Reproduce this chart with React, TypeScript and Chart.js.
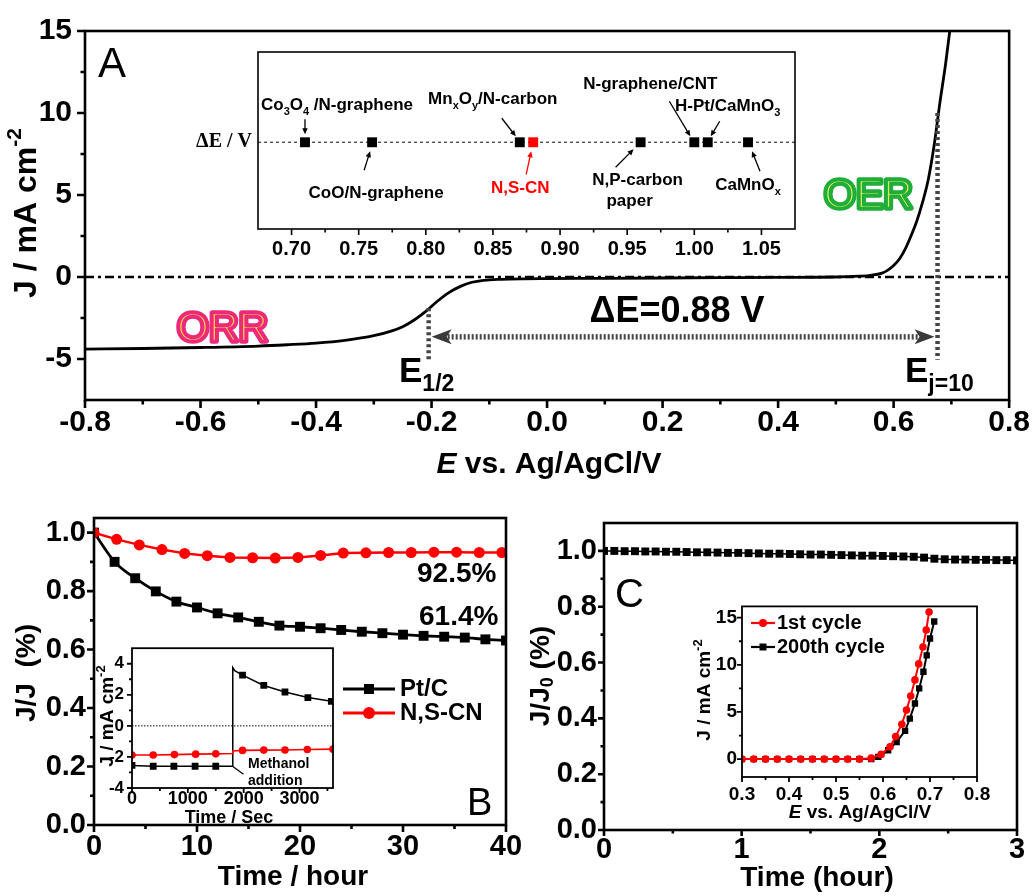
import React, { useEffect, useRef } from "react";
import { Chart, registerables } from "chart.js";

Chart.register(...registerables);

const SANS = "'Liberation Sans', Arial, Helvetica, sans-serif";
const SERIF = "'Liberation Serif', 'Times New Roman', serif";

// ---------------- Panel A : LSV (ORR + OER) ----------------
const lsvPotential = [-0.8, -0.7, -0.6, -0.5, -0.45, -0.4, -0.35, -0.3, -0.27, -0.25, -0.23, -0.21, -0.19, -0.17, -0.15, -0.13, -0.11, -0.08, -0.04, 0.0, 0.1, 0.2, 0.3, 0.4, 0.5, 0.54, 0.56, 0.58, 0.59, 0.6, 0.61, 0.62, 0.63, 0.64, 0.65, 0.66, 0.67, 0.68, 0.69, 0.7];
const lsvCurrent = [-4.4, -4.36, -4.3, -4.21, -4.13, -4.03, -3.86, -3.58, -3.3, -3.03, -2.62, -2.1, -1.48, -0.95, -0.57, -0.32, -0.2, -0.14, -0.11, -0.1, -0.08, -0.06, -0.04, -0.02, 0.0, 0.05, 0.1, 0.24, 0.42, 0.7, 1.1, 1.7, 2.5, 3.4, 4.55, 5.95, 8.0, 10.6, 13.0, 15.8];
const zeroLinePotential = [-0.8, 0.8];
const zeroLineCurrent = [0, 0];
const eHalf = -0.205;
const eJ10 = 0.676;
const jAtEHalf = -1.9;
const jTarget = 10;
const guideFloor = -5.05;
const arrowLevel = -3.65;
const panelAXTicks = [-0.8, -0.6, -0.4, -0.2, 0, 0.2, 0.4, 0.6, 0.8];
const panelAXMinor = [-0.7, -0.5, -0.3, -0.1, 0.1, 0.3, 0.5, 0.7];
const panelAYTicks = [-5, 0, 5, 10, 15];
const panelAYMinor = [-2.5, 2.5, 7.5, 12.5];

// ---------------- Inset A : ΔE comparison ----------------
const catalystNames = ["Co3O4/N-graphene", "CoO/N-graphene", "MnxOy/N-carbon", "N,S-CN", "N,P-carbon paper", "N-graphene/CNT", "H-Pt/CaMnO3", "CaMnOx"];
const catalystDeltaE = [0.71, 0.76, 0.87, 0.88, 0.96, 1.0, 1.01, 1.04];
const highlightCatalyst = "N,S-CN";
const deltaERow = 0.49;
const insetAXTicks = [0.7, 0.75, 0.8, 0.85, 0.9, 0.95, 1.0, 1.05];
const insetAXMinor = [0.725, 0.775, 0.825, 0.875, 0.925, 0.975, 1.025];

// ---------------- Panel B : stability / retention ----------------
const ptcHours = [0, 2, 4, 6, 8, 10, 12, 14, 16, 18, 20, 22, 24, 26, 28, 30, 32, 34, 36, 38, 40];
const ptcRatio = [1.0, 0.9, 0.844, 0.799, 0.764, 0.744, 0.724, 0.71, 0.695, 0.682, 0.678, 0.673, 0.667, 0.661, 0.656, 0.651, 0.647, 0.644, 0.641, 0.635, 0.631];
const nscnHours = [0, 2.2, 4.4, 6.6, 8.8, 11, 13.2, 15.4, 17.6, 19.8, 22, 24.2, 26.4, 28.6, 30.8, 33, 35.2, 37.4, 39.6];
const nscnRatio = [1.0, 0.977, 0.958, 0.942, 0.929, 0.921, 0.915, 0.914, 0.913, 0.915, 0.922, 0.93, 0.931, 0.932, 0.932, 0.933, 0.933, 0.932, 0.932];
const panelBXTicks = [0, 10, 20, 30, 40];
const panelBXMinor = [5, 15, 25, 35];
const panelBYTicks = [0, 0.2, 0.4, 0.6, 0.8, 1.0];
const panelBYMinor = [0.1, 0.3, 0.5, 0.7, 0.9];

// ---------------- Inset B : methanol tolerance ----------------
const ptcInsetSec = [0, 380, 750, 1130, 1500, 1800, 1805, 1840, 1980, 2360, 2740, 3150, 3570];
const ptcInsetJ = [-2.55, -2.6, -2.6, -2.6, -2.6, -2.6, 3.75, 3.55, 3.27, 2.6, 2.18, 1.82, 1.58];
const ptcInsetSample = [true, true, true, true, true, false, false, false, true, true, true, true, true];
const nscnInsetSec = [0, 380, 760, 1140, 1500, 1800, 1805, 1980, 2360, 2740, 3140, 3600];
const nscnInsetJ = [-1.88, -1.88, -1.85, -1.82, -1.8, -1.78, -1.62, -1.58, -1.56, -1.55, -1.52, -1.5];
const nscnInsetSample = [true, true, true, true, true, false, false, true, true, true, true, true];
const methanolTime = 1800;
const methanolJ = -2.6;
const insetBXTicks = [0, 1000, 2000, 3000];
const insetBXMinor = [500, 1500, 2500, 3500];
const insetBYTicks = [-4, -2, 0, 2, 4];
const insetBYMinor = [-3, -1, 1, 3];

// ---------------- Panel C : OER durability ----------------
const cHours = [0, 0.075, 0.15, 0.225, 0.3, 0.375, 0.45, 0.525, 0.6, 0.675, 0.75, 0.825, 0.9, 0.975, 1.05, 1.125, 1.2, 1.275, 1.35, 1.425, 1.5, 1.575, 1.65, 1.725, 1.8, 1.875, 1.95, 2.025, 2.1, 2.175, 2.25, 2.325, 2.4, 2.475, 2.55, 2.625, 2.7, 2.775, 2.85, 2.925, 3.0];
const cRetention = [1.0, 1.0, 0.999, 0.999, 0.998, 0.998, 0.997, 0.997, 0.996, 0.995, 0.995, 0.994, 0.993, 0.993, 0.992, 0.991, 0.99, 0.99, 0.989, 0.988, 0.987, 0.987, 0.986, 0.985, 0.984, 0.983, 0.983, 0.982, 0.981, 0.98, 0.979, 0.976, 0.972, 0.97, 0.969, 0.969, 0.968, 0.968, 0.967, 0.967, 0.966];
const panelCXTicks = [0, 1, 2, 3];
const panelCXMinor = [0.5, 1.5, 2.5];
const panelCYTicks = [0, 0.2, 0.4, 0.6, 0.8, 1.0];
const panelCYMinor = [0.1, 0.3, 0.5, 0.7, 0.9];

// ---------------- Inset C : polarization before / after cycling ----------------
const firstCycleE = [0.3, 0.325, 0.35, 0.375, 0.4, 0.425, 0.45, 0.475, 0.5, 0.525, 0.55, 0.575, 0.596, 0.615, 0.627, 0.64, 0.65, 0.659, 0.668, 0.676, 0.685, 0.692, 0.698];
const firstCycleJ = [0, 0, 0, 0, 0, 0, 0, 0, 0, 0, 0, 0.1, 0.5, 1.3, 2.4, 3.7, 5.2, 6.7, 8.4, 10.1, 11.9, 13.7, 15.6];
const cycle200E = [0.3, 0.325, 0.35, 0.375, 0.4, 0.425, 0.45, 0.475, 0.5, 0.525, 0.55, 0.575, 0.59, 0.611, 0.629, 0.647, 0.657, 0.668, 0.677, 0.686, 0.693, 0.7, 0.709];
const cycle200J = [0, 0, 0, 0, 0, 0, 0, 0, 0, 0, 0, 0, 0.24, 0.94, 1.8, 3.0, 4.3, 5.9, 7.5, 9.27, 11.0, 12.8, 14.6];
const insetCXTicks = [0.3, 0.4, 0.5, 0.6, 0.7, 0.8];
const insetCXMinor = [0.35, 0.45, 0.55, 0.65, 0.75];
const insetCYTicks = [0, 5, 10, 15];
const insetCYMinor = [2.5, 7.5, 12.5];

// ---------------- helpers ----------------
type Seg = { t: string; sub?: boolean; sup?: boolean; italic?: boolean };
type Box = { left: number; top: number; width: number; height: number };

const zip = (xs: number[], ys: number[]) => xs.map((x, i) => ({ x, y: ys[i] }));

function segFont(sg: Seg, size: number, weight: string, family: string) {
  const s = sg.sub || sg.sup ? Math.round(size * 0.66) : size;
  return `${sg.italic ? "italic " : ""}${weight} ${s}px ${family}`;
}

function drawRich(ctx: any, segs: Seg[], x: number, y: number, o: any) {
  const size = o.size;
  const weight = o.weight || "bold";
  const family = o.family || SANS;
  ctx.save();
  ctx.fillStyle = o.color || "#000";
  ctx.textBaseline = o.baseline || "alphabetic";
  ctx.textAlign = "left";
  let w = 0;
  for (const sg of segs) {
    ctx.font = segFont(sg, size, weight, family);
    w += ctx.measureText(sg.t).width;
  }
  const align = o.align || "left";
  let cx = align === "center" ? x - w / 2 : align === "right" ? x - w : x;
  for (const sg of segs) {
    ctx.font = segFont(sg, size, weight, family);
    const dy = sg.sub ? size * 0.26 : sg.sup ? -size * 0.36 : 0;
    ctx.fillText(sg.t, cx, y + dy);
    cx += ctx.measureText(sg.t).width;
  }
  ctx.restore();
}

function drawRotated(ctx: any, segs: Seg[], cx: number, cy: number, o: any) {
  ctx.save();
  ctx.translate(cx, cy);
  ctx.rotate(-Math.PI / 2);
  drawRich(ctx, segs, 0, 0, { ...o, align: "center", baseline: "middle" });
  ctx.restore();
}

// "inline" style lettering: coloured thick letters with a thin light line running inside the strokes
function inlineText(ctx: any, text: string, x: number, y: number, size: number, outer: string, inner: string) {
  ctx.save();
  ctx.font = `normal ${size}px ${SANS}`;
  ctx.textBaseline = "alphabetic";
  ctx.textAlign = "left";
  ctx.lineJoin = "round";
  ctx.strokeStyle = outer;
  ctx.lineWidth = 5.5;
  ctx.strokeText(text, x, y);
  ctx.fillStyle = inner;
  ctx.fillText(text, x, y);
  ctx.lineWidth = 2.6;
  ctx.strokeText(text, x, y);
  ctx.restore();
}

function arrow(ctx: any, x1: number, y1: number, x2: number, y2: number, color: string, head = 6, lw = 1.3) {
  const ang = Math.atan2(y2 - y1, x2 - x1);
  const c = Math.cos(ang), s = Math.sin(ang);
  ctx.save();
  ctx.strokeStyle = color;
  ctx.fillStyle = color;
  ctx.lineWidth = lw;
  ctx.setLineDash([]);
  ctx.beginPath();
  ctx.moveTo(x1, y1);
  ctx.lineTo(x2 - c * head * 0.8, y2 - s * head * 0.8);
  ctx.stroke();
  ctx.beginPath();
  ctx.moveTo(x2, y2);
  ctx.lineTo(x2 - head * c + head * 0.45 * s, y2 - head * s - head * 0.45 * c);
  ctx.lineTo(x2 - head * c - head * 0.45 * s, y2 - head * s + head * 0.45 * c);
  ctx.closePath();
  ctx.fill();
  ctx.restore();
}

function drawFrame(chart: any, o: any) {
  const { ctx, chartArea: a, scales } = chart;
  const xs = scales.x, ys = scales.y;
  ctx.save();
  ctx.strokeStyle = "#000";
  ctx.lineWidth = o.lw;
  ctx.setLineDash([]);
  ctx.strokeRect(a.left, a.top, a.right - a.left, a.bottom - a.top);
  ctx.beginPath();
  const hx = (v: number, len: number) => {
    const p = xs.getPixelForValue(v);
    ctx.moveTo(p, a.bottom);
    ctx.lineTo(p, a.bottom + len);
  };
  xs.ticks.forEach((t: any) => hx(t.value, o.major));
  (o.xMinor || []).forEach((v: number) => hx(v, o.minor));
  if (o.yTicks !== false) {
    const vy = (v: number, len: number) => {
      const p = ys.getPixelForValue(v);
      ctx.moveTo(a.left, p);
      ctx.lineTo(a.left - len, p);
    };
    ys.ticks.forEach((t: any) => vy(t.value, o.major));
    (o.yMinor || []).forEach((v: number) => vy(v, o.minor));
  }
  ctx.stroke();
  ctx.restore();
}

function axisOpts(o: any) {
  return {
    type: "linear",
    display: o.display !== false,
    min: o.min,
    max: o.max,
    afterBuildTicks: (ax: any) => {
      ax.ticks = (o.ticks || []).map((v: number) => ({ value: v }));
    },
    afterFit: (ax: any) => {
      if (o.horizontal) ax.height = o.fit;
      else ax.width = o.fit;
    },
    grid: { display: false, drawTicks: false },
    border: { display: false },
    ticks: {
      color: "#000",
      font: { family: SANS, size: o.size || 12, weight: "bold" },
      padding: o.pad || 0,
      autoSkip: false,
      maxRotation: 0,
      minRotation: 0,
      callback: (v: any) => (o.fmt ? o.fmt(Number(v)) : String(v)),
    },
  };
}

function baseOptions(padding: any, x: any, y: any) {
  return {
    responsive: false,
    maintainAspectRatio: false,
    animation: false,
    events: [],
    devicePixelRatio: 1,
    layout: { padding, autoPadding: false },
    plugins: { legend: { display: false }, tooltip: { enabled: false }, title: { display: false } },
    scales: { x, y },
  };
}

const fmtInt = (v: number) => String(Math.round(v));
const fmt1 = (v: number) => v.toFixed(1);
const fmt2 = (v: number) => v.toFixed(2);

// ---------------- boxes (page placement of each canvas) ----------------
const BOX_A: Box = { left: 0, top: 0, width: 1035, height: 480 };
const BOX_A_INSET: Box = { left: 180, top: 40, width: 640, height: 225 };
const BOX_B: Box = { left: 0, top: 490, width: 530, height: 406 };
const BOX_B_INSET: Box = { left: 90, top: 630, width: 260, height: 200 };
const BOX_C: Box = { left: 530, top: 490, width: 505, height: 406 };
const BOX_C_INSET: Box = { left: 690, top: 590, width: 310, height: 240 };

const jUnit: Seg[] = [{ t: "J / mA cm" }, { t: "-2", sup: true }];
const eAxis: Seg[] = [{ t: "E", italic: true }, { t: " vs. Ag/AgCl/V" }];

// ---------------- Panel A ----------------
function buildPanelA(box: Box) {
  const X = (p: number) => p - box.left;
  const Y = (p: number) => p - box.top;
  return {
    type: "scatter",
    data: {
      datasets: [
        { label: "LSV", data: zip(lsvPotential, lsvCurrent), showLine: true, borderColor: "#000", borderWidth: 2.8, pointRadius: 0, cubicInterpolationMode: "monotone" },
        { label: "J = 0", data: zip(zeroLinePotential, zeroLineCurrent), showLine: true, borderColor: "#000", borderWidth: 2.7, borderDash: [9, 4, 3, 4], pointRadius: 0 },
      ],
    },
    options: baseOptions(
      { left: 0, right: 25, top: 29, bottom: 0 },
      axisOpts({ min: -0.8, max: 0.8, ticks: panelAXTicks, fmt: fmt1, size: 30, pad: 5, fit: 80, horizontal: true }),
      axisOpts({ min: -7.5, max: 15, ticks: panelAYTicks, fmt: fmtInt, size: 30, pad: 13, fit: 85 })
    ),
    plugins: [
      {
        id: "decoA",
        afterDraw(chart: any) {
          const { ctx, scales } = chart;
          const xs = scales.x, ys = scales.y;
          const xh = xs.getPixelForValue(eHalf);
          const xj = xs.getPixelForValue(eJ10);
          const yFloor = ys.getPixelForValue(guideFloor);
          ctx.save();
          ctx.strokeStyle = "#444";
          ctx.lineWidth = 4.5;
          ctx.setLineDash([3, 3]);
          ctx.beginPath();
          ctx.moveTo(xh, ys.getPixelForValue(jAtEHalf));
          ctx.lineTo(xh, yFloor);
          ctx.moveTo(xj, ys.getPixelForValue(jTarget));
          ctx.lineTo(xj, yFloor);
          ctx.stroke();
          const ya = ys.getPixelForValue(arrowLevel);
          const xl = xh + 3, xr = xj - 3;
          ctx.lineWidth = 5.5;
          ctx.setLineDash([2, 2]);
          ctx.beginPath();
          ctx.moveTo(xl + 16, ya);
          ctx.lineTo(xr - 16, ya);
          ctx.stroke();
          ctx.setLineDash([]);
          ctx.fillStyle = "#3a3a3a";
          for (const [tip, dir] of [[xl, 1], [xr, -1]]) {
            ctx.beginPath();
            ctx.moveTo(tip, ya);
            ctx.lineTo(tip + 20 * dir, ya - 7.5);
            ctx.lineTo(tip + 15 * dir, ya);
            ctx.lineTo(tip + 20 * dir, ya + 7.5);
            ctx.closePath();
            ctx.fill();
          }
          ctx.restore();

          drawFrame(chart, { lw: 2.6, major: 8, minor: 4.5, xMinor: panelAXMinor, yMinor: panelAYMinor });

          drawRich(ctx, [{ t: "A" }], X(98), Y(77), { size: 42, weight: "normal" });
          inlineText(ctx, "ORR", X(177), Y(341), 41, "#ec2a7a", "#ffd84a");
          inlineText(ctx, "OER", X(824), Y(208), 41, "#1fae3a", "#e2f05a");
          drawRich(ctx, [{ t: "ΔE=0.88 V" }], X(677), Y(322), { size: 36, align: "center" });
          drawRich(ctx, [{ t: "E" }, { t: "1/2", sub: true }], X(399), Y(382), { size: 35 });
          drawRich(ctx, [{ t: "E" }, { t: "j=10", sub: true }], X(905), Y(382), { size: 35 });
          drawRotated(ctx, jUnit, X(27), Y(213), { size: 32 });
          drawRich(ctx, eAxis, X(549), Y(473), { size: 30, align: "center" });
        },
      },
    ],
  };
}

// ---------------- Inset A ----------------
const catalystCallouts = [
  { lines: [{ segs: [{ t: "Co" }, { t: "3", sub: true }, { t: "O" }, { t: "4", sub: true }, { t: " /N-graphene" }], dx: 32, dy: -32 }], from: [0, -23], to: [0, -8] },
  { lines: [{ segs: [{ t: "CoO/N-graphene" }], dx: 4, dy: 56 }], from: [-8, 28], to: [-2, 9] },
  { lines: [{ segs: [{ t: "Mn" }, { t: "x", sub: true }, { t: "O" }, { t: "y", sub: true }, { t: "/N-carbon" }], dx: -27, dy: -38 }], from: [-18, -24], to: [-4, -6] },
  { lines: [{ segs: [{ t: "N,S-CN" }], dx: -13, dy: 51 }], from: [-7, 32], to: [-2, 9] },
  { lines: [{ segs: [{ t: "N,P-carbon" }], dx: -3, dy: 43 }, { segs: [{ t: "paper" }], dx: -11, dy: 64 }], from: [-25, 25], to: [-7, 7] },
  { lines: [{ segs: [{ t: "N-graphene/CNT" }], dx: -44, dy: -53 }], from: [-25, -41], to: [-4, -6] },
  { lines: [{ segs: [{ t: "H-Pt/CaMnO" }, { t: "3", sub: true }], dx: 20, dy: -31 }], from: [12, -21], to: [3, -6] },
  { lines: [{ segs: [{ t: "CaMnO" }, { t: "x", sub: true }], dx: 0, dy: 48 }], from: [12, 29], to: [4, 9] },
];

function buildInsetA(box: Box) {
  const colors = catalystNames.map((n) => (n === highlightCatalyst ? "#ff0000" : "#000"));
  return {
    type: "scatter",
    data: {
      datasets: [
        { label: "ΔE", data: zip(catalystDeltaE, catalystDeltaE.map(() => deltaERow)), showLine: false, pointStyle: "rect", pointRadius: 7, pointBackgroundColor: colors, pointBorderWidth: 0 },
        { label: "row", data: zip([0.675, 1.075], [deltaERow, deltaERow]), showLine: true, borderColor: "#333", borderWidth: 1.2, borderDash: [3, 3], pointRadius: 0 },
      ],
    },
    options: baseOptions(
      { left: 78, right: 25, top: 12, bottom: 0 },
      axisOpts({ min: 0.675, max: 1.075, ticks: insetAXTicks, fmt: fmt2, size: 20, pad: 8, fit: 36, horizontal: true }),
      axisOpts({ min: 0, max: 1, ticks: [], display: false, fit: 0 })
    ),
    plugins: [
      {
        id: "decoInsetA",
        afterDraw(chart: any) {
          const { ctx, chartArea: a, scales } = chart;
          const xs = scales.x, ys = scales.y;
          drawFrame(chart, { lw: 1.6, major: 6, minor: 3.5, xMinor: insetAXMinor, yTicks: false });
          const rowY = ys.getPixelForValue(deltaERow);
          drawRich(ctx, [{ t: "ΔE / V" }], a.left - 6, rowY, { size: 20, family: SERIF, align: "right", baseline: "middle" });
          catalystDeltaE.forEach((v, i) => {
            const c = catalystCallouts[i];
            const px = xs.getPixelForValue(v);
            const color = colors[i];
            c.lines.forEach((l: any) => drawRich(ctx, l.segs, px + l.dx, rowY + l.dy, { size: 17, align: "center", color }));
            arrow(ctx, px + c.from[0], rowY + c.from[1], px + c.to[0], rowY + c.to[1], color);
          });
        },
      },
    ],
  };
}

// ---------------- Panel B ----------------
function buildPanelB(box: Box) {
  const X = (p: number) => p - box.left;
  const Y = (p: number) => p - box.top;
  return {
    type: "scatter",
    data: {
      datasets: [
        { label: "N,S-CN", data: zip(nscnHours, nscnRatio), showLine: true, borderColor: "#ff0000", borderWidth: 2.5, pointStyle: "circle", pointRadius: 5.5, pointBackgroundColor: "#ff0000", pointBorderWidth: 0 },
        { label: "Pt/C", data: zip(ptcHours, ptcRatio), showLine: true, borderColor: "#000", borderWidth: 2.8, pointStyle: "rect", pointRadius: 7, pointBackgroundColor: "#000", pointBorderWidth: 0, cubicInterpolationMode: "monotone" },
      ],
    },
    options: baseOptions(
      { left: 0, right: 24, top: 28, bottom: 0 },
      axisOpts({ min: 0, max: 40, ticks: panelBXTicks, fmt: fmtInt, size: 29, pad: 5, fit: 71, horizontal: true }),
      axisOpts({ min: 0, max: 1.05, ticks: panelBYTicks, fmt: fmt1, size: 29, pad: 8, fit: 94 })
    ),
    plugins: [
      {
        id: "decoB",
        afterDraw(chart: any) {
          const { ctx } = chart;
          drawFrame(chart, { lw: 2.6, major: 7, minor: 4, xMinor: panelBXMinor, yMinor: panelBYMinor });
          drawRich(ctx, [{ t: "92.5%" }], X(417), Y(582), { size: 28 });
          drawRich(ctx, [{ t: "61.4%" }], X(419), Y(625), { size: 28 });
          drawRich(ctx, [{ t: "B" }], X(467), Y(815), { size: 38, weight: "normal" });
          // legend
          ctx.save();
          ctx.lineWidth = 2.8;
          ctx.strokeStyle = "#000";
          ctx.beginPath();
          ctx.moveTo(X(343), Y(689));
          ctx.lineTo(X(395), Y(689));
          ctx.stroke();
          ctx.fillStyle = "#000";
          ctx.fillRect(X(369) - 5, Y(689) - 5, 10, 10);
          ctx.strokeStyle = "#ff0000";
          ctx.beginPath();
          ctx.moveTo(X(343), Y(713));
          ctx.lineTo(X(395), Y(713));
          ctx.stroke();
          ctx.fillStyle = "#ff0000";
          ctx.beginPath();
          ctx.arc(X(369), Y(713), 6, 0, Math.PI * 2);
          ctx.fill();
          ctx.restore();
          drawRich(ctx, [{ t: "Pt/C" }], X(400), Y(689), { size: 24, baseline: "middle" });
          drawRich(ctx, [{ t: "N,S-CN" }], X(400), Y(713), { size: 24, baseline: "middle" });
          drawRotated(ctx, [{ t: "J/J  (%)" }], X(27), Y(673), { size: 28 });
          drawRich(ctx, [{ t: "Time / hour" }], X(293), Y(885), { size: 28, align: "center" });
        },
      },
    ],
  };
}

// ---------------- Inset B ----------------
function buildInsetB(box: Box) {
  const X = (p: number) => p - box.left;
  const Y = (p: number) => p - box.top;
  return {
    type: "scatter",
    data: {
      datasets: [
        { label: "N,S-CN", data: zip(nscnInsetSec, nscnInsetJ), showLine: true, borderColor: "#ff0000", borderWidth: 1.6, pointStyle: "circle", pointRadius: (c: any) => (nscnInsetSample[c.dataIndex] ? 3.8 : 0), pointBackgroundColor: "#ff0000", pointBorderWidth: 0 },
        { label: "Pt/C", data: zip(ptcInsetSec, ptcInsetJ), showLine: true, borderColor: "#000", borderWidth: 1.5, pointStyle: "rect", pointRadius: (c: any) => (ptcInsetSample[c.dataIndex] ? 4.8 : 0), pointBackgroundColor: "#000", pointBorderWidth: 0 },
      ],
    },
    options: baseOptions(
      { left: 0, right: 17, top: 11, bottom: 0 },
      axisOpts({ min: 0, max: 3600, ticks: insetBXTicks, fmt: fmtInt, size: 18, pad: 0, fit: 42, horizontal: true }),
      axisOpts({ min: -4, max: 5, ticks: insetBYTicks, fmt: fmtInt, size: 17, pad: 8, fit: 42 })
    ),
    plugins: [
      {
        id: "decoInsetB",
        beforeDatasetsDraw(chart: any) {
          const { ctx, chartArea: a, scales } = chart;
          const y0 = scales.y.getPixelForValue(0);
          ctx.save();
          ctx.strokeStyle = "#000";
          ctx.lineWidth = 1;
          ctx.setLineDash([1.5, 1.5]);
          ctx.beginPath();
          ctx.moveTo(a.left, y0);
          ctx.lineTo(a.right, y0);
          ctx.stroke();
          ctx.restore();
        },
        afterDraw(chart: any) {
          const { ctx, scales } = chart;
          drawFrame(chart, { lw: 1.8, major: 5, minor: 3, xMinor: insetBXMinor, yMinor: insetBYMinor });
          const mx = scales.x.getPixelForValue(methanolTime);
          const my = scales.y.getPixelForValue(methanolJ);
          ctx.save();
          ctx.strokeStyle = "#000";
          ctx.lineWidth = 1.2;
          ctx.beginPath();
          ctx.moveTo(mx, my);
          ctx.lineTo(mx + 11, my + 8);
          ctx.stroke();
          ctx.restore();
          drawRich(ctx, [{ t: "Methanol" }], X(248), Y(768), { size: 14 });
          drawRich(ctx, [{ t: "addition" }], X(248), Y(785), { size: 14 });
          drawRotated(ctx, jUnit, X(108), Y(716), { size: 19 });
          drawRich(ctx, [{ t: "Time / Sec" }], X(229), Y(823), { size: 18, align: "center" });
        },
      },
    ],
  };
}

// ---------------- Panel C ----------------
function buildPanelC(box: Box) {
  const X = (p: number) => p - box.left;
  const Y = (p: number) => p - box.top;
  return {
    type: "scatter",
    data: {
      datasets: [
        { label: "N,S-CN", data: zip(cHours, cRetention), showLine: true, borderColor: "#000", borderWidth: 1.5, pointStyle: "rect", pointRadius: 5.6, pointBackgroundColor: "#000", pointBorderWidth: 0 },
      ],
    },
    options: baseOptions(
      { left: 0, right: 18, top: 33, bottom: 0 },
      axisOpts({ min: 0, max: 3, ticks: panelCXTicks, fmt: fmtInt, size: 29, pad: 3, fit: 66, horizontal: true }),
      axisOpts({ min: 0, max: 1.1, ticks: panelCYTicks, fmt: fmt1, size: 29, pad: 7, fit: 74 })
    ),
    plugins: [
      {
        id: "decoC",
        afterDraw(chart: any) {
          const { ctx } = chart;
          drawFrame(chart, { lw: 2.6, major: 6, minor: 3.5, xMinor: panelCXMinor, yMinor: panelCYMinor });
          drawRich(ctx, [{ t: "C" }], X(615), Y(607), { size: 40, weight: "normal" });
          drawRotated(ctx, [{ t: "J/J" }, { t: "0", sub: true }, { t: " (%)" }], X(541), Y(676), { size: 28 });
          drawRich(ctx, [{ t: "Time (hour)" }], X(817), Y(886), { size: 28, align: "center" });
        },
      },
    ],
  };
}

// ---------------- Inset C ----------------
function buildInsetC(box: Box) {
  const X = (p: number) => p - box.left;
  const Y = (p: number) => p - box.top;
  return {
    type: "scatter",
    data: {
      datasets: [
        { label: "1st cycle", data: zip(firstCycleE, firstCycleJ), showLine: true, borderColor: "#ff0000", borderWidth: 2, pointStyle: "circle", pointRadius: 3.8, pointBackgroundColor: "#ff0000", pointBorderWidth: 0 },
        { label: "200th cycle", data: zip(cycle200E, cycle200J), showLine: true, borderColor: "#000", borderWidth: 2, pointStyle: "rect", pointRadius: 4.5, pointBackgroundColor: "#000", pointBorderWidth: 0 },
      ],
    },
    options: baseOptions(
      { left: 0, right: 23, top: 13, bottom: 0 },
      axisOpts({ min: 0.3, max: 0.8, ticks: insetCXTicks, fmt: fmt1, size: 19, pad: 6, fit: 53, horizontal: true }),
      axisOpts({ min: -1.9, max: 16.2, ticks: insetCYTicks, fmt: fmtInt, size: 19, pad: 5, fit: 52 })
    ),
    plugins: [
      {
        id: "decoInsetC",
        afterDraw(chart: any) {
          const { ctx } = chart;
          drawFrame(chart, { lw: 1.8, major: 5, minor: 3, xMinor: insetCXMinor, yMinor: insetCYMinor });
          ctx.save();
          ctx.lineWidth = 2.2;
          ctx.strokeStyle = "#ff0000";
          ctx.beginPath();
          ctx.moveTo(X(751), Y(623));
          ctx.lineTo(X(775), Y(623));
          ctx.stroke();
          ctx.fillStyle = "#ff0000";
          ctx.beginPath();
          ctx.arc(X(763), Y(623), 4, 0, Math.PI * 2);
          ctx.fill();
          ctx.strokeStyle = "#000";
          ctx.beginPath();
          ctx.moveTo(X(751), Y(647));
          ctx.lineTo(X(775), Y(647));
          ctx.stroke();
          ctx.fillStyle = "#000";
          ctx.fillRect(X(763) - 3.5, Y(647) - 3.5, 7, 7);
          ctx.restore();
          drawRich(ctx, [{ t: "1st cycle" }], X(777), Y(623), { size: 20, baseline: "middle" });
          drawRich(ctx, [{ t: "200th cycle" }], X(777), Y(647), { size: 20, baseline: "middle" });
          drawRotated(ctx, jUnit, X(705), Y(690), { size: 19 });
          drawRich(ctx, eAxis, X(860), Y(818), { size: 19, align: "center" });
        },
      },
    ],
  };
}

// ---------------- React ----------------
function ChartCanvas({ box, build }: { box: Box; build: (b: Box) => any }) {
  const ref = useRef<HTMLCanvasElement | null>(null);
  useEffect(() => {
    if (!ref.current) return;
    const chart = new Chart(ref.current, build(box) as any);
    return () => chart.destroy();
  }, []);
  return (
    <canvas
      ref={ref}
      width={box.width}
      height={box.height}
      style={{ position: "absolute", left: box.left, top: box.top, width: box.width, height: box.height }}
    />
  );
}

export default function App() {
  return (
    <div style={{ position: "absolute", left: 0, top: 0, width: 1035, height: 896, background: "#fff", overflow: "hidden" }}>
      <ChartCanvas box={BOX_A} build={buildPanelA} />
      <ChartCanvas box={BOX_A_INSET} build={buildInsetA} />
      <ChartCanvas box={BOX_B} build={buildPanelB} />
      <ChartCanvas box={BOX_B_INSET} build={buildInsetB} />
      <ChartCanvas box={BOX_C} build={buildPanelC} />
      <ChartCanvas box={BOX_C_INSET} build={buildInsetC} />
    </div>
  );
}
